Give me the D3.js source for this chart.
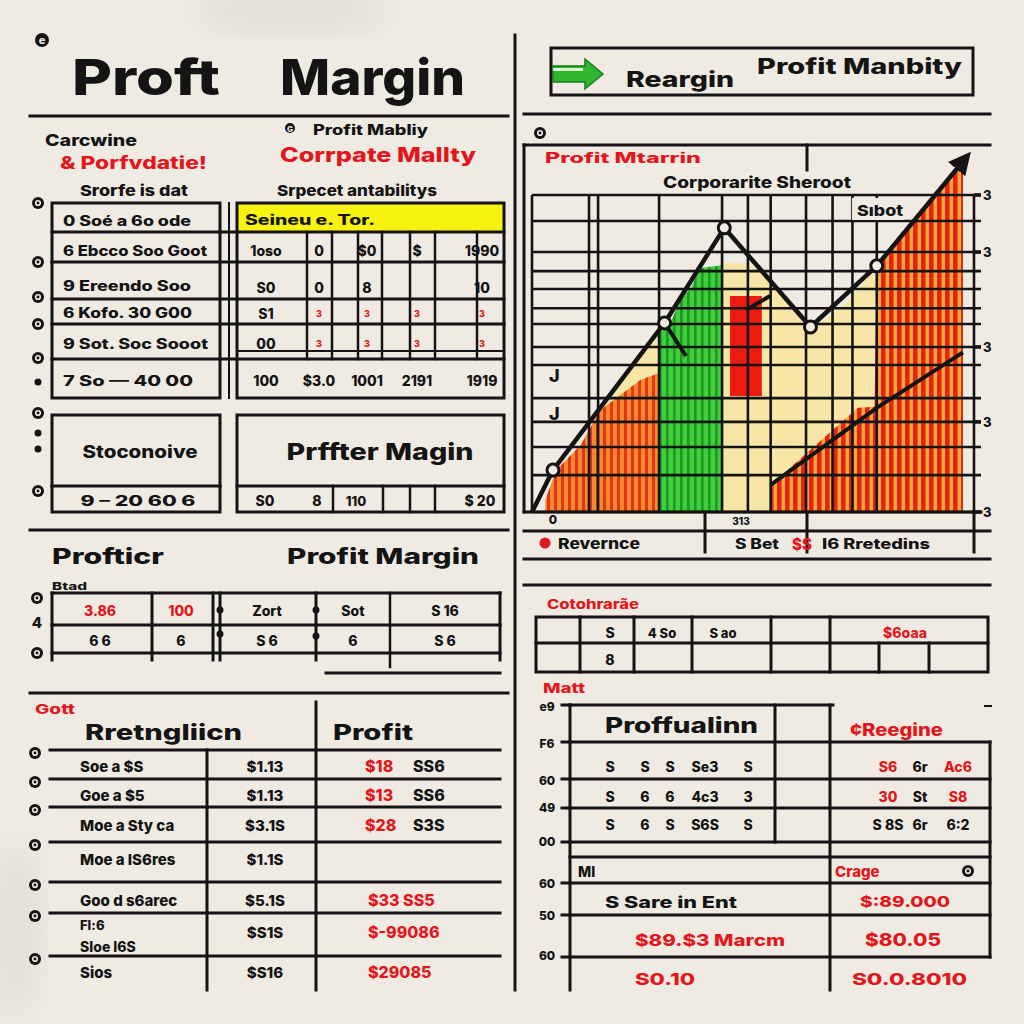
<!DOCTYPE html>
<html><head><meta charset="utf-8">
<script src="https://cdn.jsdelivr.net/npm/d3@7"></script>
<style>
body{margin:0;background:#efebe3}
svg{display:block}
text{font-family:Inter,"Open Sans",sans-serif;font-weight:800}
</style></head>
<body><svg id="c" width="1024" height="1024"></svg>
<script>
// ---------------- DATA ----------------
const titleWords = ["Proft", "Margin"];
const introLeft = ["Carcwine", "& Porfvdatie!", "Srorfe is dat"];
const introRight = ["G  Profit Mabliy", "Corrpate Mallty", "Srpecet antabilitys"];
const tableARowLabels = ["0 Soé a 6o ode", "6 Ebcco Soo Goot", "9 Ereendo Soo", "6 Kofo. 30 G00", "9 Sot. Soc Sooot", "7 So — 40 00"];
const tableAHeader = "Seineu e. Tor.";
const tableACells = [
  ["1oso", "0", "$0", "$", "1990"],
  ["S0", "0", "8", "", "10"],
  ["S1", "3", "3", "3", "3"],
  ["00", "3", "3", "3", "3"],
  ["100", "$3.0", "1001", "2191", "1919"]
];
const boxBLeft = ["Stoconoive", "9  –  20 60 6"];
const boxBRight = ["Prffter Magin", "S0", "8", "110", "$ 20"];
const secCHeads = ["Profticr", "Profit Margin", "Btad"];
const tableCRows = [
  ["3.86", "100", "Zort", "Sot", "S 16"],
  ["6  6", "6", "S  6", "6", "S  6"]
];
const secDHeads = ["Gott", "Rretngliicn", "Profit"];
const secDLabels = ["Soe a $S", "Goe a $5", "Moe a Sty ca", "Moe a IS6res", "Goo d s6arec", "Fl:6|Sloe I6S", "Sios"];
const secDPrices = ["$1.13", "$1.13", "$3.1S", "$1.1S", "$5.1S", "$S1S", "$S16"];
const secDProfitRed = ["$18", "$13", "$28", "", "$33  SS5", "$-99086", "$29085"];
const secDProfitBlack = ["SS6", "SS6", "S3S", "", "", "", ""];

const bannerText = ["Reargin", "Profit Manbity"];
const chartTitles = ["Profit Mtarrin", "Corporarite Sheroot", "Sıbot"];
// x: period index (0-20), y: margin units (0-14)
const lineX = [0, 0.95, 6.0, 8.7, 12.6, 15.6, 19.6];
const lineY = [0, 1.85, 8.35, 12.55, 8.17, 10.87, 15.6];
const markerIdx = [1, 2, 3, 4, 5];
const lowerX = [10.8, 15.6, 19.5];
const lowerY = [1.2, 4.6, 7.05];
const stubX = [[6.0, 6.97], [9.68, 10.77]];
const stubY = [[8.35, 6.89], [8.92, 9.54]];
const yellowX = [3.1, 5.75, 8.6, 9.8, 10.8, 12.6, 14.4, 15.6, 19.5];
const yellowY = [4.5, 7.9, 11.0, 11.0, 10.3, 8.0, 9.4, 10.9, 15.5];
const orangeX = [0.6, 1.1, 2.2, 3.1, 4.0, 4.9, 5.75];
const orangeY = [0.53, 1.85, 2.96, 4.5, 5.17, 5.83, 6.14];
const greenX = [5.75, 6.2, 6.7, 7.2, 7.6, 8.6];
const greenY = [7.9, 8.2, 9.36, 9.9, 10.78, 10.9];
const redX = [10.8, 14.75, 15.5, 15.6, 19.5];
const redY = [1.2, 4.6, 4.65, 10.9, 15.5];
const redBar = {x0: 8.96, x1: 10.4, y0: 5.12, y1: 9.54};
const gridX = [0, 2.58, 2.99, 5.75, 8.6, 9.77, 10.8, 12.4, 13.6, 14.5, 15.6, 20];
const gridY = [0, 1.63, 2.87, 3.98, 5.03, 6.49, 7.29, 8.3, 9.0, 9.85, 10.64, 11.48, 12.85, 14];
const rightTicks = [14, 11.48, 7.29, 3.98, 0];
const rightTickLabel = "3";
const bottomLabels = ["0", "313"];
const legendText = ["Revernce", "S  Bet", "$S", "I6 Rretedins"];

const secFHeads = ["Cotohrarãe", "Matt"];
const tableFRow1 = ["S", "4  So", "S  ao", "$6oaa"];
const tableFRow2 = ["8"];

const secGAxis = ["e9", "F6", "60", "49", "00", "60", "50", "60"];
const secGHeads = ["Proffualinn", "¢Reegine"];
const secGLeftRows = [
  ["S", "S", "S", "Se3", "S"],
  ["S", "6", "6", "4c3", "3"],
  ["S", "6", "S", "S6S", "S"]
];
const secGRightRows = [
  ["S6", "6r", "Ac6"],
  ["30", "St", "S8"],
  ["S 8S", "6r", "6:2"]
];
const secGRightRed = [[true, false, true], [true, false, true], [false, false, false]];
const secGBottom = ["MI", "Crage", "S  Sare  in  Ent", "$:89.000", "$89.$3 Marcm", "$80.05", "S0.10", "S0.0.8010"];

// ---------------- DRAW ----------------
const INK = "#141414", RED = "#e3161c";
const svg = d3.select("#c");
const defs = svg.append("defs");
svg.append("rect").attr("width", 1024).attr("height", 1024).attr("fill", "#efebe3");
// faint paper blotches
defs.append("filter").attr("id", "bl").append("feGaussianBlur").attr("stdDeviation", 16);
svg.append("ellipse").attr("cx", 290).attr("cy", 10).attr("rx", 100).attr("ry", 24).attr("fill", "#e3dfd7").attr("filter", "url(#bl)");
svg.append("ellipse").attr("cx", 15).attr("cy", 930).attr("rx", 28).attr("ry", 90).attr("fill", "#e4dfd7").attr("filter", "url(#bl)");

function stripes(id, base, stripe, period, sw) {
  const p = defs.append("pattern").attr("id", id).attr("patternUnits", "userSpaceOnUse")
    .attr("width", period).attr("height", 10);
  p.append("rect").attr("width", period).attr("height", 10).attr("fill", base);
  p.append("rect").attr("x", 1).attr("width", sw).attr("height", 10).attr("fill", stripe);
}
stripes("pOr", "#f58a2c", "#e2341a", 7, 3);
stripes("pGr", "#43cc3e", "#1a9a20", 7, 2.6);
stripes("pRd", "#f4aa3a", "#e62414", 8, 4.6);

const g = svg.append("g");
function T(x, y, s, o = {}) {
  const e = g.append("text").attr("x", x).attr("y", y).text(s)
    .attr("font-size", o.fs || 15).attr("fill", o.c || INK).attr("text-anchor", o.a || "start");
  if (o.w) e.attr("textLength", o.w).attr("lengthAdjust", "spacingAndGlyphs");
  if (o.fw) e.attr("font-weight", o.fw);
  return e;
}
function H(x1, x2, y, sw = 3) { g.append("line").attr("x1", x1).attr("x2", x2).attr("y1", y).attr("y2", y).attr("stroke", INK).attr("stroke-width", sw).attr("stroke-linecap", "square"); }
function V(x, y1, y2, sw = 3) { g.append("line").attr("x1", x).attr("x2", x).attr("y1", y1).attr("y2", y2).attr("stroke", INK).attr("stroke-width", sw).attr("stroke-linecap", "square"); }
function R(x, y, w, h, sw = 3) { g.append("rect").attr("x", x).attr("y", y).attr("width", w).attr("height", h).attr("fill", "none").attr("stroke", INK).attr("stroke-width", sw); }
function dot(x, y, r = 6) {
  g.append("circle").attr("cx", x).attr("cy", y).attr("r", r).attr("fill", INK);
  g.append("circle").attr("cx", x).attr("cy", y).attr("r", r * 0.38).attr("fill", "none").attr("stroke", "#efebe3").attr("stroke-width", 1.6);
}
function sdot(x, y) { g.append("circle").attr("cx", x).attr("cy", y).attr("r", 3.5).attr("fill", INK); }

// main vertical divider
V(515, 35, 990, 3);

// ===== Section A: title =====
g.append("circle").attr("cx", 42).attr("cy", 40).attr("r", 7).attr("fill", INK);
T(42, 44, "e", {fs: 11, c: "#efebe3", a: "middle"});
T(72, 95, titleWords[0], {fs: 50, w: 148});
T(280, 95, titleWords[1], {fs: 50, w: 185});
H(30, 508, 116, 3);
T(45, 146, introLeft[0], {fs: 16, w: 92});
T(60, 169, introLeft[1], {fs: 17, c: RED, w: 147});
T(80, 196, introLeft[2], {fs: 15, w: 108});
g.append("circle").attr("cx", 290).attr("cy", 128).attr("r", 5).attr("fill", INK);
T(290, 132, "G", {fs: 8, c: "#efebe3", a: "middle"});
T(313, 135, introRight[0].replace("G  ", ""), {fs: 14, w: 115});
T(280, 162, introRight[1], {fs: 20, c: RED, w: 196});
T(277, 196, introRight[2], {fs: 15, w: 160});

// ===== Table A =====
g.append("rect").attr("x", 237).attr("y", 203).attr("width", 267).attr("height", 29).attr("fill", "#f7f20f");
R(52, 203, 168, 195);
R(237, 203, 267, 195);
V(229, 203, 398, 2);
const rowA = [232, 262, 299, 324, 359];
rowA.forEach(y => H(52, 504, y, 3));
H(237, 504, 351, 2);
[307, 332, 358, 382, 410, 435, 477].forEach(x => V(x, 232, 359, 2.5));
T(245, 225, tableAHeader, {fs: 14, w: 130});
const rowLabelY = [226, 256, 291, 318, 349, 386];
const rowLabelW = [128, 144, 128, 129, 145, 130];
tableARowLabels.forEach((s, i) => T(63, rowLabelY[i], s, {fs: 14, w: rowLabelW[i]}));
const colA = [266, 319, 367, 417, 482];
const rowCellY = [256, 293, 319, 349, 386];
tableACells.forEach((row, r) => row.forEach((s, c) => {
  if (!s) return;
  const red = (r === 2 || r === 3) && c > 0;
  T(colA[c], rowCellY[r] - (red ? 2 : 0), s, {fs: red ? 9 : 14, c: red ? RED : INK, a: "middle"});
}));
[203, 262, 297, 324, 358, 413, 491].forEach(y => dot(38, y));
[382, 433, 449].forEach(y => sdot(38, y));

// ===== Box B =====
R(52, 415, 168, 97);
R(237, 415, 267, 97);
H(52, 220, 486, 3); H(237, 504, 486, 3);
[333, 383, 410, 435].forEach(x => V(x, 486, 512, 2.5));
T(140, 458, boxBLeft[0], {fs: 17, a: "middle", w: 115});
T(138, 506, boxBLeft[1], {fs: 14, a: "middle", w: 115});
T(380, 460, boxBRight[0], {fs: 23, a: "middle", w: 187});
T(265, 506, boxBRight[1], {fs: 14, a: "middle"});
T(317, 506, boxBRight[2], {fs: 14, a: "middle"});
T(356, 506, boxBRight[3], {fs: 13, a: "middle"});
T(480, 506, boxBRight[4], {fs: 14, a: "middle"});

H(30, 508, 530, 3);

// ===== Section C =====
T(52, 564, secCHeads[0], {fs: 22, w: 112});
T(287, 564, secCHeads[1], {fs: 22, w: 192});
T(52, 590, secCHeads[2], {fs: 10, w: 35});
H(52, 500, 593, 3); H(52, 500, 625, 3); H(52, 500, 653, 3);
[52, 152, 213, 220, 316, 500].forEach(x => V(x, 593, 660, 3));
V(390, 593, 667, 2.5);
H(326, 500, 673, 3);
const colC = [100, 181, 267, 353, 445];
tableCRows.forEach((row, r) => row.forEach((s, c) => {
  T(colC[c], r === 0 ? 616 : 646, s, {fs: 14, a: "middle", c: (r === 0 && c < 2) ? RED : INK});
}));
[[220, 610], [220, 634], [316, 610], [316, 636]].forEach(p => sdot(p[0], p[1]));
dot(37, 598); dot(37, 653);
T(37, 628, "4", {fs: 15, a: "middle"});

H(30, 508, 693, 3);

// ===== Section D =====
T(35, 714, secDHeads[0], {fs: 13, c: RED, w: 40});
T(85, 740, secDHeads[1], {fs: 22, w: 157});
T(333, 740, secDHeads[2], {fs: 22, w: 80});
V(316, 702, 990, 3);
V(207, 750, 990, 3);
const rowD = [750, 779, 807, 842, 882, 913, 956];
rowD.forEach(y => H(50, 500, y, 3));
rowD.forEach(y => dot(35, y + 3));
const rowDText = [772, 801, 831, 865, 906, 938, 978];
secDLabels.forEach((s, i) => {
  if (s.includes("|")) {
    const p = s.split("|");
    T(80, 930, p[0], {fs: 13});
    T(80, 952, p[1], {fs: 14});
  } else T(80, rowDText[i], s, {fs: 15});
});
secDPrices.forEach((s, i) => T(265, rowDText[i], s, {fs: 15, a: "middle"}));
secDProfitRed.forEach((s, i) => { if (s) T(secDProfitBlack[i] ? 365 : 368, rowDText[i], s, {fs: 16, c: RED}); });
secDProfitBlack.forEach((s, i) => { if (s) T(413, rowDText[i], s, {fs: 16}); });

// ===== Section E: banner =====
R(551, 48, 422, 47);
g.append("path").attr("d", "M553,66 L585,66 L585,59 L603,74 L585,89 L585,82 L553,82 Z").attr("fill", "#2fb52f").attr("stroke", "#187a18").attr("stroke-width", 1.5);
g.append("rect").attr("x", 553).attr("y", 68).attr("width", 30).attr("height", 3).attr("fill", "#d7f4d0");
T(626, 87, bannerText[0], {fs: 22, w: 108});
T(757, 74, bannerText[1], {fs: 21, w: 205});
H(524, 990, 114, 3);
dot(540, 133, 6);

// ===== Chart =====
const x = d3.scaleLinear().domain([0, 20]).range([532, 974]);
const y = d3.scaleLinear().domain([0, 14]).range([512, 195]);
const ch = g.append("g");
function area(xs, ys, fill) {
  const pts = xs.map((v, i) => [v, ys[i]]);
  ch.append("path").datum(pts)
    .attr("d", d3.area().x(d => x(d[0])).y0(y(0)).y1(d => y(d[1])))
    .attr("fill", fill);
}
area(yellowX, yellowY, "#f7e6a6");
area(orangeX, orangeY, "url(#pOr)");
area(greenX, greenY, "url(#pGr)");
area(redX, redY, "url(#pRd)");
ch.append("rect").attr("x", x(redBar.x0)).attr("y", y(redBar.y1))
  .attr("width", x(redBar.x1) - x(redBar.x0)).attr("height", y(redBar.y0) - y(redBar.y1)).attr("fill", "#ee1c10");

// grid
gridY.forEach(v => ch.append("line").attr("x1", x(0)).attr("x2", 981).attr("y1", y(v)).attr("y2", y(v)).attr("stroke", INK).attr("stroke-width", 2.6));
gridX.forEach(v => ch.append("line").attr("x1", x(v)).attr("x2", x(v)).attr("y1", y(0)).attr("y2", y(14)).attr("stroke", INK).attr("stroke-width", 2.6));
// frame
V(524, 145, 512, 3);
H(524, 990, 145, 3);
V(807, 145, 170, 3);
H(524, 981, 512, 3);
rightTicks.forEach(v => {
  ch.append("line").attr("x1", 974).attr("x2", 981).attr("y1", y(v)).attr("y2", y(v)).attr("stroke", INK).attr("stroke-width", 3.5);
  T(983, y(v) + 5, rightTickLabel, {fs: 13});
});
T(545, 163, chartTitles[0], {fs: 14, c: RED, w: 156});
T(663, 188, chartTitles[1], {fs: 16, w: 188});
g.append("rect").attr("x", 852).attr("y", 198).attr("width", 52).attr("height", 22).attr("fill", "#efebe3");
T(857, 216, chartTitles[2], {fs: 15, w: 46});
T(549, 382, "J", {fs: 18}); T(549, 420, "J", {fs: 18});

// lines
defs.append("marker").attr("id", "ah").attr("viewBox", "0 0 10 10").attr("refX", 6).attr("refY", 5)
  .attr("markerWidth", 5).attr("markerHeight", 5).attr("orient", "auto")
  .append("path").attr("d", "M0,0 L10,5 L0,10 Z").attr("fill", INK);
const lineGen = d3.line().x(d => x(d[0])).y(d => y(d[1]));
ch.append("path").datum(lowerX.map((v, i) => [v, lowerY[i]])).attr("d", lineGen)
  .attr("fill", "none").attr("stroke", INK).attr("stroke-width", 4);
stubX.forEach((xs, k) => ch.append("path").datum(xs.map((v, i) => [v, stubY[k][i]])).attr("d", lineGen)
  .attr("fill", "none").attr("stroke", INK).attr("stroke-width", 4));
ch.append("path").datum(lineX.map((v, i) => [v, lineY[i]])).attr("d", lineGen)
  .attr("fill", "none").attr("stroke", INK).attr("stroke-width", 4.5).attr("stroke-linejoin", "round")
  .attr("marker-end", "url(#ah)");
markerIdx.forEach(i => ch.append("circle").attr("cx", x(lineX[i])).attr("cy", y(lineY[i])).attr("r", 6)
  .attr("fill", "#efebe3").attr("stroke", INK).attr("stroke-width", 3));

// under-chart strip
T(553, 524, bottomLabels[0], {fs: 12, a: "middle"});
T(741, 525, bottomLabels[1], {fs: 10, a: "middle"});
H(524, 990, 531, 3);
H(524, 990, 559, 3);
[705, 807, 974].forEach(xx => V(xx, 512, 552, 3));
g.append("circle").attr("cx", 545).attr("cy", 543).attr("r", 5.5).attr("fill", RED);
T(558, 549, legendText[0], {fs: 15, w: 82});
T(735, 549, legendText[1], {fs: 14, w: 44});
T(792, 550, legendText[2], {fs: 16, c: RED, w: 20});
T(822, 549, legendText[3], {fs: 14, w: 108});

// ===== Section F =====
H(524, 990, 585, 3);
T(547, 609, secFHeads[0], {fs: 13, c: RED, w: 92});
R(536, 617, 452, 55);
H(536, 988, 643, 3);
[580, 634, 692, 771, 830].forEach(xx => V(xx, 617, 672, 3));
[879, 929].forEach(xx => V(xx, 643, 672, 3));
T(610, 638, tableFRow1[0], {fs: 14, a: "middle"});
T(662, 638, tableFRow1[1], {fs: 13, a: "middle"});
T(723, 638, tableFRow1[2], {fs: 13, a: "middle"});
T(905, 638, tableFRow1[3], {fs: 14, a: "middle", c: RED});
T(610, 665, tableFRow2[0], {fs: 14, a: "middle"});
T(543, 693, secFHeads[1], {fs: 13, c: RED, w: 42});

// ===== Section G =====
const gAxisY = [711, 748, 785, 812, 846, 888, 920, 960];
secGAxis.forEach((s, i) => T(547, gAxisY[i], s, {fs: 12, a: "middle"}));
[705, 742, 779, 808, 842, 883, 915, 957].forEach(yy => H(562, 570, yy, 3));
H(570, 833, 705, 3);
V(570, 705, 990, 3);
V(775, 705, 842, 3);
V(830, 705, 990, 3);
V(990, 742, 957, 3);
H(570, 990, 742, 3);
[779, 808, 842, 857, 883, 915, 957].forEach(yy => H(570, 990, yy, 3));
H(985, 991, 706, 2);
T(605, 733, secGHeads[0], {fs: 21, w: 153});
T(850, 736, secGHeads[1], {fs: 17, c: RED, w: 93});
const gColL = [610, 645, 670, 705, 748];
const gRowY = [772, 802, 830];
secGLeftRows.forEach((row, r) => row.forEach((s, c) => T(gColL[c], gRowY[r], s, {fs: 14, a: "middle"})));
const gColR = [888, 920, 958];
secGRightRows.forEach((row, r) => row.forEach((s, c) => T(gColR[c], gRowY[r], s, {fs: 14, a: "middle", c: secGRightRed[r][c] ? RED : INK})));
T(578, 877, secGBottom[0], {fs: 14});
T(835, 877, secGBottom[1], {fs: 15, c: RED});
dot(968, 871, 6);
T(605, 908, secGBottom[2], {fs: 16, w: 132});
T(860, 907, secGBottom[3], {fs: 15, c: RED, w: 90});
T(635, 946, secGBottom[4], {fs: 16, c: RED, w: 150});
T(865, 946, secGBottom[5], {fs: 17, c: RED, w: 76});
T(635, 985, secGBottom[6], {fs: 16, c: RED, w: 60});
T(852, 985, secGBottom[7], {fs: 16, c: RED, w: 115});
</script>
</body></html>
